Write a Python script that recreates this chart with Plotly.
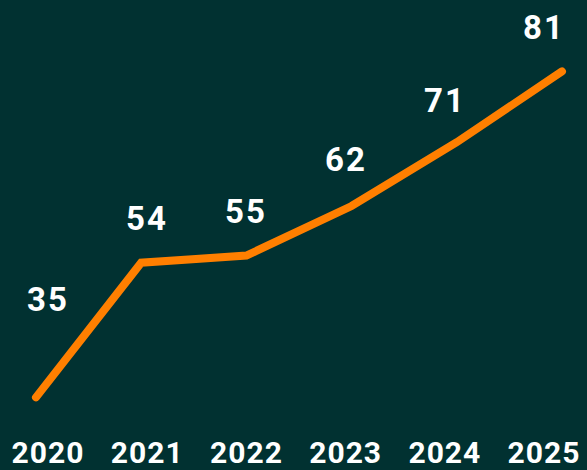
import plotly.graph_objects as go

years = ["2020", "2021", "2022", "2023", "2024", "2025"]
values = [35, 54, 55, 62, 71, 81]
label_shift = [98, 44, 44, 47, 42, 44]

BG = "#013131"
ORANGE = "#FF7F00"
idx = list(range(len(years)))

fig = go.Figure()
fig.add_trace(go.Scatter(
    x=idx, y=values, mode="lines",
    line=dict(color=ORANGE, width=8),
    xaxis="x", yaxis="y", hoverinfo="skip", showlegend=False,
))
fig.add_trace(go.Scatter(
    x=idx, y=values, mode="markers", marker=dict(opacity=0),
    xaxis="x2", yaxis="y", hoverinfo="skip", showlegend=False,
))

for i, (v, s) in enumerate(zip(values, label_shift)):
    fig.add_annotation(
        x=i, y=v, xref="x2", yref="y", text=str(v), showarrow=False,
        yshift=s, font=dict(family="Roboto", size=33, color="white", weight="bold"),
    )

fig.update_layout(
    width=587, height=470,
    margin=dict(l=0, r=0, t=0, b=34),
    paper_bgcolor=BG, plot_bgcolor=BG,
    xaxis=dict(range=[-0.342, 5.238], visible=False, fixedrange=True),
    xaxis2=dict(
        range=[-0.484, 5.433], overlaying="x", side="bottom", anchor="y",
        tickmode="array", tickvals=idx, ticktext=years,
        showgrid=False, zeroline=False, showline=False, ticks="",
        tickfont=dict(family="Roboto", size=30, color="white", weight="bold"),
    ),
    yaxis=dict(range=[30.11, 91.07], visible=False),
)

post = """
document.body.style.margin='0';
document.body.style.padding='0';
document.body.style.overflow='hidden';
document.body.style.background='%s';
document.querySelectorAll('.scatterlayer .js-line').forEach(function(p){
  p.style.strokeLinecap='round'; p.style.strokeLinejoin='miter';
});
document.querySelectorAll('.annotation-text').forEach(function(t){
  t.style.letterSpacing='2px';
});
document.querySelectorAll('.xtick text, .x2tick text').forEach(function(t){
  t.style.letterSpacing='1px';
});
""" % BG

fig.write_html("out.html", config={"displayModeBar": False}, post_script=post)
